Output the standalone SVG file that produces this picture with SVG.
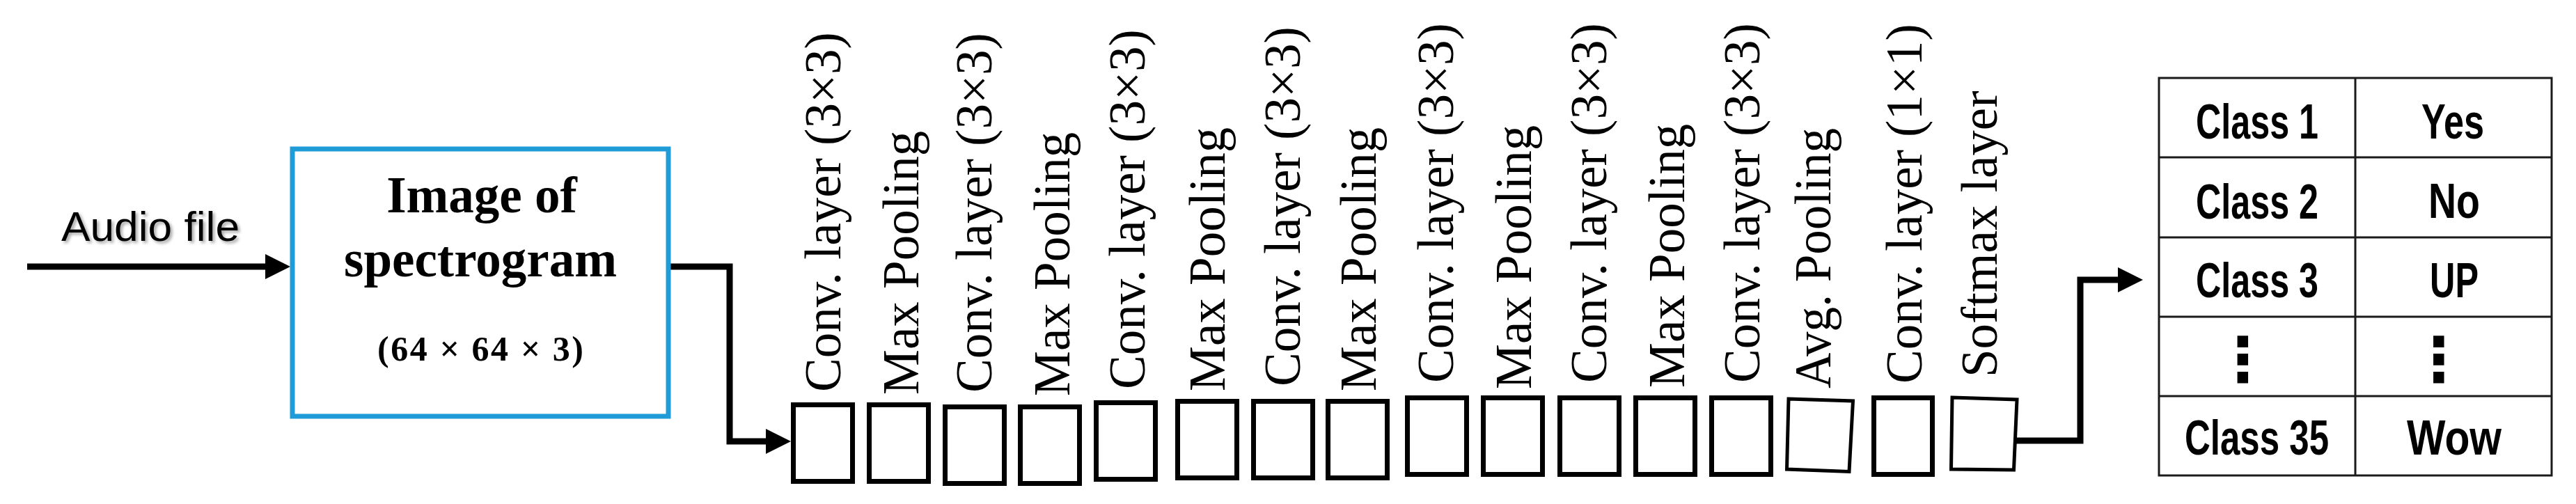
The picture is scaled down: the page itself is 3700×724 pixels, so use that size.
<svg xmlns="http://www.w3.org/2000/svg" width="3700" height="724" viewBox="0 0 3700 724">
<style>
.bg{fill:#ffffff}
.layer{fill:#ffffff;stroke:#000000;stroke-width:7}
.layer-thin{fill:#ffffff;stroke:#000000;stroke-width:5;stroke-linejoin:miter}
.lbl{font-family:"Liberation Serif","Times New Roman",serif;font-size:73px;fill:#000000}
.conn{fill:none;stroke:#000000;stroke-width:9;stroke-linejoin:miter}
.spec{fill:#ffffff;stroke:#1f9bd7;stroke-width:7}
.spec-t{font-family:"Liberation Serif","Times New Roman",serif;font-weight:bold;fill:#000000;text-anchor:middle}
.cell{fill:none;stroke:#1a1a1a;stroke-width:3}
.ct{font-family:"Liberation Sans",Arial,sans-serif;font-weight:bold;font-size:70px;fill:#000000;text-anchor:middle}
.dots{font-family:"DejaVu Sans",sans-serif;font-weight:bold;font-size:88px;fill:#000000;text-anchor:middle}
.audio{font-family:"Liberation Sans",Arial,sans-serif;font-size:60px;fill:#000000}
</style>
<defs>
<marker id="ah" markerUnits="userSpaceOnUse" viewBox="0 0 36 36" markerWidth="36" markerHeight="36" refX="0" refY="18" orient="auto">
<path d="M0,0 L36,18 L0,36 Z" fill="#000000"/>
</marker>
<filter id="shadow" x="-10%" y="-20%" width="130%" height="160%">
<feDropShadow dx="3" dy="3" stdDeviation="2" flood-color="#000000" flood-opacity="0.35"/>
</filter>
</defs>
<rect class="bg" x="0" y="0" width="3700" height="724"/>

<g id="connectors">
<line class="conn" x1="39" y1="383" x2="381" y2="383" marker-end="url(#ah)"/>
<polyline class="conn" points="963,383 1048,383 1048,634 1100,634" marker-end="url(#ah)"/>
<polyline class="conn" points="2894,633 2988,633 2988,402 3042,402" marker-end="url(#ah)"/>
</g>

<g id="audio-file">
<text class="audio" x="88" y="346" textLength="256" lengthAdjust="spacingAndGlyphs" filter="url(#shadow)">Audio file</text>
</g>

<g id="spectrogram">
<rect class="spec" x="420" y="214" width="540" height="384"/>
<text class="spec-t" x="692" y="305" font-size="73">Image of</text>
<text class="spec-t" x="690" y="397" font-size="73">spectrogram</text>
<text class="spec-t" x="690" y="518" font-size="50" textLength="296" lengthAdjust="spacing">(64 × 64 × 3)</text>
</g>

<g id="layer-1"><rect class="layer" x="1139.5" y="581.5" width="85" height="110"/><text class="lbl" transform="translate(1207,563) rotate(-90)">Conv. layer (3×3)</text></g>
<g id="layer-2"><rect class="layer" x="1248.5" y="581.5" width="85" height="110"/><text class="lbl" transform="translate(1319,567) rotate(-90)">Max Pooling</text></g>
<g id="layer-3"><rect class="layer" x="1357.5" y="584.5" width="85" height="110"/><text class="lbl" transform="translate(1424,564) rotate(-90)">Conv. layer (3×3)</text></g>
<g id="layer-4"><rect class="layer" x="1465.5" y="584.5" width="85" height="110"/><text class="lbl" transform="translate(1536,569) rotate(-90)">Max Pooling</text></g>
<g id="layer-5"><rect class="layer" x="1574.5" y="578.5" width="85" height="110"/><text class="lbl" transform="translate(1644,559) rotate(-90)">Conv. layer (3×3)</text></g>
<g id="layer-6"><rect class="layer" x="1691.5" y="576.5" width="85" height="110"/><text class="lbl" transform="translate(1759,562) rotate(-90)">Max Pooling</text></g>
<g id="layer-7"><rect class="layer" x="1800.5" y="576.5" width="85" height="110"/><text class="lbl" transform="translate(1867,555) rotate(-90)">Conv. layer (3×3)</text></g>
<g id="layer-8"><rect class="layer" x="1907.5" y="576.5" width="85" height="110"/><text class="lbl" transform="translate(1976,562) rotate(-90)">Max Pooling</text></g>
<g id="layer-9"><rect class="layer" x="2021.5" y="571.5" width="85" height="110"/><text class="lbl" transform="translate(2087,550) rotate(-90)">Conv. layer (3×3)</text></g>
<g id="layer-10"><rect class="layer" x="2130.5" y="571.5" width="85" height="110"/><text class="lbl" transform="translate(2199,559) rotate(-90)">Max Pooling</text></g>
<g id="layer-11"><rect class="layer" x="2240.5" y="571.5" width="85" height="110"/><text class="lbl" transform="translate(2307,550) rotate(-90)">Conv. layer (3×3)</text></g>
<g id="layer-12"><rect class="layer" x="2349.5" y="571.5" width="85" height="110"/><text class="lbl" transform="translate(2419,557) rotate(-90)">Max Pooling</text></g>
<g id="layer-13"><rect class="layer" x="2458.5" y="571.5" width="85" height="110"/><text class="lbl" transform="translate(2527,550) rotate(-90)">Conv. layer (3×3)</text></g>
<g id="layer-14"><polygon class="layer-thin" points="2569,573 2661.5,576 2656,677.5 2566.5,674"/><text class="lbl" transform="translate(2629,558) rotate(-90)" textLength="374" lengthAdjust="spacingAndGlyphs">Avg. Pooling</text></g>
<g id="layer-15"><rect class="layer" x="2691.5" y="571.5" width="84" height="110"/><text class="lbl" transform="translate(2760,551) rotate(-90)">Conv. layer (1×1)</text></g>
<g id="layer-16"><polygon class="layer-thin" points="2804,571 2897,574 2892.5,675 2802.5,674"/><text class="lbl" transform="translate(2868,542) rotate(-90)">Softmax layer</text></g>

<g id="class-table">
<rect class="cell" x="3101" y="112" width="564" height="571"/>
<line class="cell" x1="3383" y1="112" x2="3383" y2="683"/>
<line class="cell" x1="3101" y1="226" x2="3665" y2="226"/>
<line class="cell" x1="3101" y1="341" x2="3665" y2="341"/>
<line class="cell" x1="3101" y1="455" x2="3665" y2="455"/>
<line class="cell" x1="3101" y1="569" x2="3665" y2="569"/>
<text class="ct" x="3242" y="199" textLength="176" lengthAdjust="spacingAndGlyphs">Class 1</text>
<text class="ct" x="3523" y="199" textLength="90" lengthAdjust="spacingAndGlyphs">Yes</text>
<text class="ct" x="3242" y="314" textLength="176" lengthAdjust="spacingAndGlyphs">Class 2</text>
<text class="ct" x="3525" y="313" textLength="74" lengthAdjust="spacingAndGlyphs">No</text>
<text class="ct" x="3242" y="427" textLength="176" lengthAdjust="spacingAndGlyphs">Class 3</text>
<text class="ct" x="3525" y="427" textLength="70" lengthAdjust="spacingAndGlyphs">UP</text>
<text class="dots" x="3221.5" y="547">⋮</text>
<text class="dots" x="3503" y="547">⋮</text>
<text class="ct" x="3241.5" y="653" textLength="207" lengthAdjust="spacingAndGlyphs">Class 35</text>
<text class="ct" x="3525" y="653" textLength="136" lengthAdjust="spacingAndGlyphs">Wow</text>
</g>
</svg>
